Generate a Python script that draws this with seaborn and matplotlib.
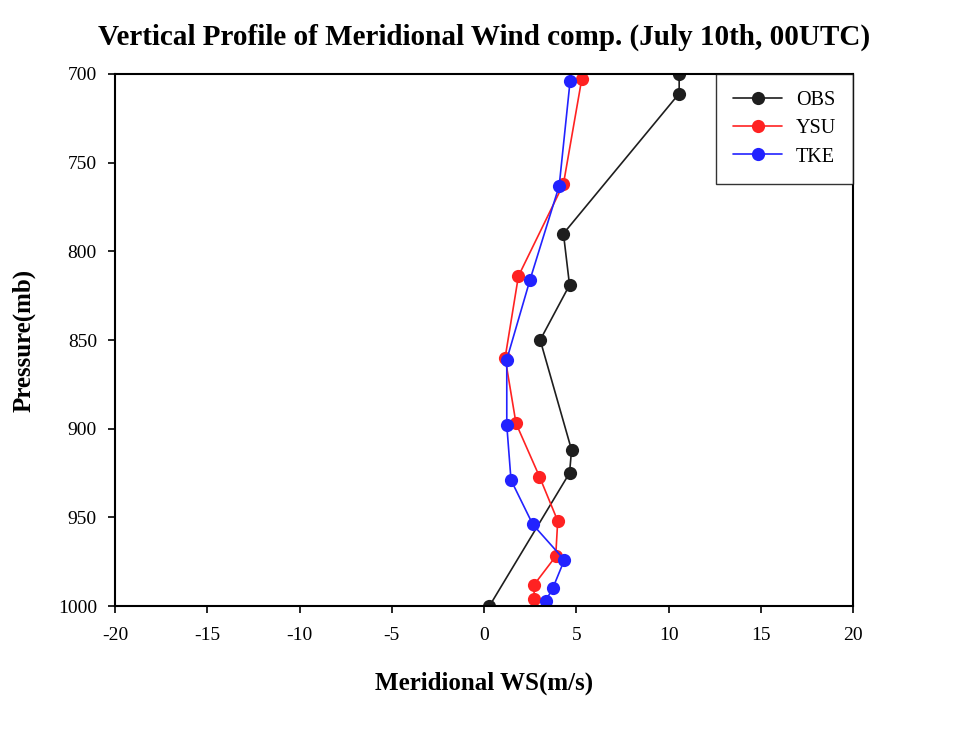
import matplotlib
matplotlib.use('Agg')
import matplotlib.pyplot as plt
import pandas as pd
import seaborn as sns

# observed profile
obs_ws = [10.57, 10.57, 4.30, 4.63, 3.04, 4.74, 4.63, 0.29]
obs_p = [700, 711, 790, 819, 850, 912, 925, 1000]

# YSU run
ysu_ws = [5.29, 4.30, 1.86, 1.14, 1.73, 3.00, 3.99, 3.88, 2.71, 2.71]
ysu_p = [703, 762, 814, 860, 897, 927, 952, 972, 988, 996]

# TKE run
tke_ws = [4.66, 4.07, 2.49, 1.23, 1.23, 1.46, 2.64, 4.35, 3.72, 3.34]
tke_p = [704, 763, 816, 861, 898, 929, 954, 974, 990, 997]

x_ticks = [-20, -15, -10, -5, 0, 5, 10, 15, 20]
y_ticks = [700, 750, 800, 850, 900, 950, 1000]

df = pd.concat([
    pd.DataFrame({'ws': obs_ws, 'p': obs_p, 'run': 'OBS'}),
    pd.DataFrame({'ws': ysu_ws, 'p': ysu_p, 'run': 'YSU'}),
    pd.DataFrame({'ws': tke_ws, 'p': tke_p, 'run': 'TKE'}),
], ignore_index=True)

sns.set_style('ticks')
plt.rcParams['font.family'] = ['Liberation Serif', 'DejaVu Serif']
plt.rcParams['axes.unicode_minus'] = False
plt.rcParams['text.color'] = 'black'
plt.rcParams['axes.labelcolor'] = 'black'

fig = plt.figure(figsize=(9.74, 7.37), dpi=100)
ax = fig.add_axes([0.118, 0.1777, 0.758, 0.7219])

palette = {'OBS': '#1e1e1e', 'YSU': '#ff2222', 'TKE': '#2222ff'}
sns.lineplot(data=df, x='ws', y='p', hue='run', palette=palette, sort=False,
             estimator=None, marker='o', markersize=9.5, markeredgewidth=0,
             linewidth=1.2, ax=ax)

ax.set_xlim(-20, 20)
ax.set_ylim(1000, 700)
ax.set_xticks(x_ticks)
ax.set_yticks(y_ticks)
ax.tick_params(axis='both', direction='out', length=5, width=1.2,
               labelsize=14, colors='black')
ax.tick_params(axis='x', pad=10)
ax.tick_params(axis='y', pad=8)
for sp in ax.spines.values():
    sp.set_linewidth(1.5)
    sp.set_color('black')

ax.set_xlabel('Meridional WS(m/s)', fontsize=18, fontweight='bold', labelpad=20)
ax.set_ylabel('Pressure(mb)', fontsize=18, fontweight='bold', labelpad=16)
fig.suptitle('Vertical Profile of Meridional Wind comp. (July 10th, 00UTC)',
             fontsize=21, fontweight='bold', x=0.497, y=0.968, color='black')

leg = ax.legend(loc='upper right', borderaxespad=0, fancybox=False,
                frameon=True, fontsize=14.5, handlelength=2.4, borderpad=0.85,
                labelspacing=0.45, handletextpad=0.7, title=None)
leg.get_frame().set_edgecolor('black')
leg.get_frame().set_linewidth(1.0)

fig.savefig('out.png', dpi=100)
